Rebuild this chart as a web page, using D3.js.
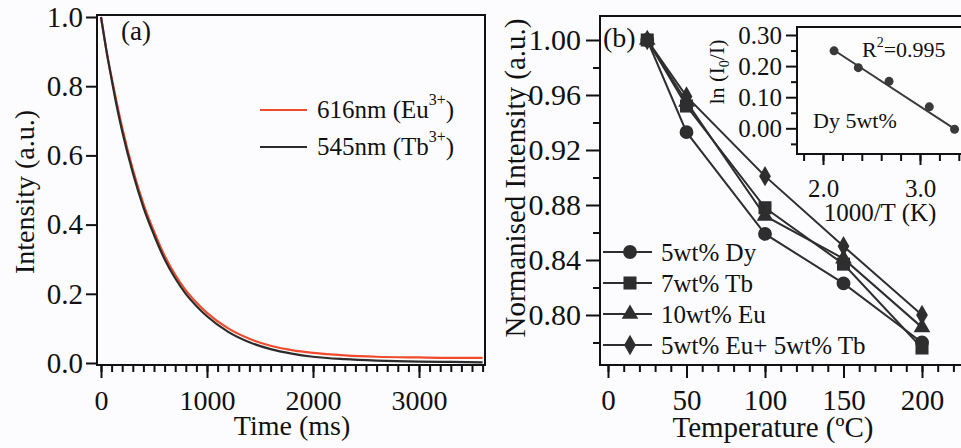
<!doctype html>
<html lang="en">
<head>
<meta charset="utf-8">
<script src="https://d3js.org/d3.v7.min.js"></script>
<style>
  body { margin: 0; background: #fcfcfe; }
  svg { display: block; font-family: "Liberation Serif", "Times New Roman", "DejaVu Serif", serif; }
</style>
</head>
<body>
<div id="chart"></div>
<script>
// ---- panel (a): decay curves ----
var timeMs = [0, 50, 100, 150, 200, 300, 400, 500, 600, 700, 800, 900, 1000, 1200, 1400, 1600, 1800, 2000, 2300, 2600, 3000, 3300, 3600];
var eu616 = [1.0, 0.905, 0.825, 0.75, 0.68, 0.56, 0.46, 0.38, 0.31, 0.255, 0.21, 0.175, 0.145, 0.10, 0.07, 0.05, 0.037, 0.029, 0.022, 0.018, 0.016, 0.015, 0.015];
var tb545 = [1.0, 0.905, 0.82, 0.74, 0.67, 0.55, 0.45, 0.37, 0.30, 0.245, 0.20, 0.165, 0.135, 0.09, 0.06, 0.04, 0.027, 0.018, 0.011, 0.007, 0.004, 0.003, 0.002];
var seriesA = [
  { name: "616nm (Eu", ion: "3+", values: eu616, color: "#ef4b2c" },
  { name: "545nm (Tb", ion: "3+", values: tb545, color: "#2b2b2b" }
];
var ticksAx = [0, 1000, 2000, 3000];
var ticksAy = [0, 0.2, 0.4, 0.6, 0.8, 1.0];

// ---- panel (b): normalised intensity ----
var tempC = [25, 50, 100, 150, 200];
var dy5 = [1.00, 0.933, 0.859, 0.823, 0.780];
var tb7 = [1.00, 0.952, 0.878, 0.837, 0.776];
var eu10 = [1.00, 0.955, 0.872, 0.841, 0.791];
var euTb = [1.00, 0.959, 0.901, 0.850, 0.800];
var seriesB = [
  { name: "5wt% Dy", values: dy5, symbol: d3.symbolCircle, size: 150 },
  { name: "7wt% Tb", values: tb7, symbol: d3.symbolSquare, size: 170 },
  { name: "10wt% Eu", values: eu10, symbol: d3.symbolTriangle, size: 120 },
  { name: "5wt% Eu+ 5wt% Tb", values: euTb, symbol: d3.symbolDiamond, size: 120 }
];
var ticksBx = [0, 50, 100, 150, 200];
var ticksBy = [0.80, 0.84, 0.88, 0.92, 0.96, 1.00];

// ---- inset: ln(I0/I) vs 1000/T ----
var invT = [2.114, 2.364, 2.681, 3.096, 3.356];
var lnRatio = [0.249, 0.195, 0.151, 0.069, -0.003];
var fitLine = [[2.114, 0.251], [3.356, -0.002]];
var ticksIx = [2.0, 3.0];
var ticksIy = [0.00, 0.10, 0.20, 0.30];

var W = 961, H = 448;
var serif = "Liberation Serif";
var svg = d3.select("#chart").append("svg").attr("width", W).attr("height", H);
svg.append("rect").attr("width", W).attr("height", H).attr("fill", "#fcfcfe");

var ink = "#111";

function styleAxis(g, fs) {
  g.select(".domain").remove();
  g.selectAll("line").attr("stroke", ink).attr("stroke-width", 2);
  g.selectAll("text").attr("fill", ink).attr("font-size", fs).attr("font-family", serif);
}

// ================= panel (a) =================
var xA = d3.scaleLinear().domain([0, 3000]).range([101, 419]);
var yA = d3.scaleLinear().domain([0, 1]).range([363, 17]);
var aL = 97, aR = 485, aT = 15, aB = 365;

var lineA = d3.line().x(function (d, i) { return xA(timeMs[i]); }).y(function (d) { return yA(d); }).curve(d3.curveMonotoneX);
seriesA.forEach(function (s) {
  svg.append("path").datum(s.values)
    .attr("fill", "none").attr("stroke", s.color).attr("stroke-width", 2.2)
    .attr("d", lineA);
});

// frame
svg.append("rect").attr("x", aL).attr("y", aT).attr("width", aR - aL).attr("height", aB - aT)
  .attr("fill", "none").attr("stroke", ink).attr("stroke-width", 2);

// x axis (a)
var gAx = svg.append("g").attr("transform", "translate(0," + aB + ")");
gAx.call(d3.axisBottom(xA).tickValues(d3.range(0, 3700, 100)).tickSize(7).tickFormat(""))
  .call(function (g) { styleAxis(g, 28); });
gAx.append("g").call(d3.axisBottom(xA).tickValues(ticksAx).tickSize(13).tickPadding(12).tickFormat(d3.format("d")))
  .call(function (g) { styleAxis(g, 28); });

// y axis (a)
svg.append("g").attr("transform", "translate(" + aL + ",0)")
  .call(d3.axisLeft(yA).tickValues(ticksAy).tickSize(11).tickPadding(3).tickFormat(d3.format(".1f")))
  .call(function (g) { styleAxis(g, 29); });

svg.append("text").attr("x", 292).attr("y", 435).attr("text-anchor", "middle")
  .attr("font-size", 28).attr("fill", ink).text("Time (ms)");
svg.append("text").attr("transform", "translate(34,192) rotate(-90)").attr("text-anchor", "middle")
  .attr("font-size", 28).attr("fill", ink).text("Intensity (a.u.)");
svg.append("text").attr("x", 121).attr("y", 40).attr("font-size", 27).attr("fill", ink).text("(a)");

// legend (a)
seriesA.forEach(function (s, i) {
  var ly = 110 + i * 37;
  svg.append("line").attr("x1", 260).attr("x2", 307).attr("y1", ly).attr("y2", ly)
    .attr("stroke", s.color).attr("stroke-width", 2.2);
  var t = svg.append("text").attr("x", 317).attr("y", ly + 8).attr("font-size", 25).attr("fill", ink);
  t.append("tspan").text(s.name);
  t.append("tspan").attr("font-size", 16).attr("dy", -13).text(s.ion);
  t.append("tspan").attr("dy", 13).text(")");
});

// ================= panel (b) =================
var xB = d3.scaleLinear().domain([0, 200]).range([608, 922]);
var yB = d3.scaleLinear().domain([0.80, 1.00]).range([315, 40]);
var bL = 600, bR = 975, bT = 16, bB = 365;

svg.append("rect").attr("x", bL).attr("y", bT).attr("width", bR - bL).attr("height", bB - bT)
  .attr("fill", "none").attr("stroke", ink).attr("stroke-width", 2);

// x axis (b)
var gBx = svg.append("g").attr("transform", "translate(0," + bB + ")");
gBx.call(d3.axisBottom(xB).tickValues(d3.range(0, 230, 10)).tickSize(7).tickFormat(""))
  .call(function (g) { styleAxis(g, 29); });
gBx.append("g").call(d3.axisBottom(xB).tickValues(ticksBx).tickSize(13).tickPadding(11).tickFormat(d3.format("d")))
  .call(function (g) { styleAxis(g, 29); });

// y axis (b)
var gBy = svg.append("g").attr("transform", "translate(" + bL + ",0)");
gBy.call(d3.axisLeft(yB).tickValues([0.78, 0.82, 0.86, 0.90, 0.94, 0.98]).tickSize(7).tickFormat(""))
  .call(function (g) { styleAxis(g, 30); });
gBy.append("g").call(d3.axisLeft(yB).tickValues(ticksBy).tickSize(14).tickPadding(5).tickFormat(d3.format(".2f")))
  .call(function (g) { styleAxis(g, 30); });

svg.append("text").attr("x", 773).attr("y", 437).attr("text-anchor", "middle")
  .attr("font-size", 29).attr("fill", ink).text("Temperature (ºC)");
svg.append("text").attr("transform", "translate(525,178) rotate(-90)").attr("text-anchor", "middle")
  .attr("font-size", 29).attr("fill", ink).text("Normanised Intensity (a.u.)");

// series (b)
var lineB = d3.line().x(function (d, i) { return xB(tempC[i]); }).y(function (d) { return yB(d); });
var serCol = "#2e2e2e";
seriesB.forEach(function (s) {
  svg.append("path").datum(s.values).attr("fill", "none").attr("stroke", serCol).attr("stroke-width", 2).attr("d", lineB);
});
seriesB.forEach(function (s) {
  svg.selectAll(null).data(s.values).enter().append("path")
    .attr("transform", function (d, i) { return "translate(" + xB(tempC[i]) + "," + yB(d) + ")"; })
    .attr("d", d3.symbol().type(s.symbol).size(s.size)).attr("fill", serCol);
});

svg.append("text").attr("x", 603).attr("y", 47).attr("font-size", 28).attr("fill", ink).text("(b)");

// legend (b)
seriesB.forEach(function (s, i) {
  var ly = 252 + i * 31;
  svg.append("line").attr("x1", 603).attr("x2", 652).attr("y1", ly).attr("y2", ly)
    .attr("stroke", serCol).attr("stroke-width", 2);
  svg.append("path").attr("transform", "translate(630," + ly + ")")
    .attr("d", d3.symbol().type(s.symbol).size(s.size)).attr("fill", serCol);
  svg.append("text").attr("x", 661).attr("y", ly + 9).attr("font-size", 25).attr("fill", ink).text(s.name);
});

// ================= inset =================
var xI = d3.scaleLinear().domain([2, 3]).range([823, 920]);
var yI = d3.scaleLinear().domain([0, 0.3]).range([128.3, 35]);
var iL = 797, iR = 975, iT = 27, iB = 154;

svg.append("rect").attr("x", iL).attr("y", iT).attr("width", iR - iL).attr("height", iB - iT)
  .attr("fill", "#fdfdfe").attr("stroke", ink).attr("stroke-width", 2);

var gIx = svg.append("g").attr("transform", "translate(0," + iB + ")");
gIx.call(d3.axisBottom(xI).tickValues(d3.range(1.8, 3.5, 0.2)).tickSize(7).tickFormat(""))
  .call(function (g) { styleAxis(g, 25); });
gIx.append("g").call(d3.axisBottom(xI).tickValues(ticksIx).tickSize(11).tickPadding(14).tickFormat(d3.format(".1f")))
  .call(function (g) { styleAxis(g, 25); });

var gIy = svg.append("g").attr("transform", "translate(" + iL + ",0)");
gIy.call(d3.axisLeft(yI).tickValues([-0.05, 0.05, 0.15, 0.25]).tickSize(6).tickFormat(""))
  .call(function (g) { styleAxis(g, 25); });
gIy.append("g").call(d3.axisLeft(yI).tickValues(ticksIy).tickSize(11).tickPadding(4).tickFormat(d3.format(".2f")))
  .call(function (g) { styleAxis(g, 25); });

svg.append("path").datum(fitLine)
  .attr("d", d3.line().x(function (d) { return xI(d[0]); }).y(function (d) { return yI(d[1]); }))
  .attr("stroke", "#3a3a3a").attr("stroke-width", 2).attr("fill", "none");
svg.selectAll(null).data(lnRatio).enter().append("circle")
  .attr("cx", function (d, i) { return xI(invT[i]); }).attr("cy", function (d) { return yI(d); })
  .attr("r", 4.5).attr("fill", "#3a3a3a");

var r2 = svg.append("text").attr("x", 862).attr("y", 57).attr("font-size", 22).attr("fill", ink);
r2.append("tspan").text("R");
r2.append("tspan").attr("font-size", 14).attr("dy", -10).text("2");
r2.append("tspan").attr("dy", 10).text("=0.995");
svg.append("text").attr("x", 813).attr("y", 128).attr("font-size", 22).attr("fill", ink).text("Dy 5wt%");

svg.append("text").attr("x", 880).attr("y", 221).attr("text-anchor", "middle")
  .attr("font-size", 25).attr("fill", ink).text("1000/T (K)");
var lnT = svg.append("text").attr("transform", "translate(724,72) rotate(-90)").attr("text-anchor", "middle")
  .attr("font-size", 22).attr("fill", ink);
lnT.append("tspan").text("ln (I");
lnT.append("tspan").attr("font-size", 14).attr("dy", 5).text("0");
lnT.append("tspan").attr("dy", -5).text("/I)");
</script>
</body>
</html>
